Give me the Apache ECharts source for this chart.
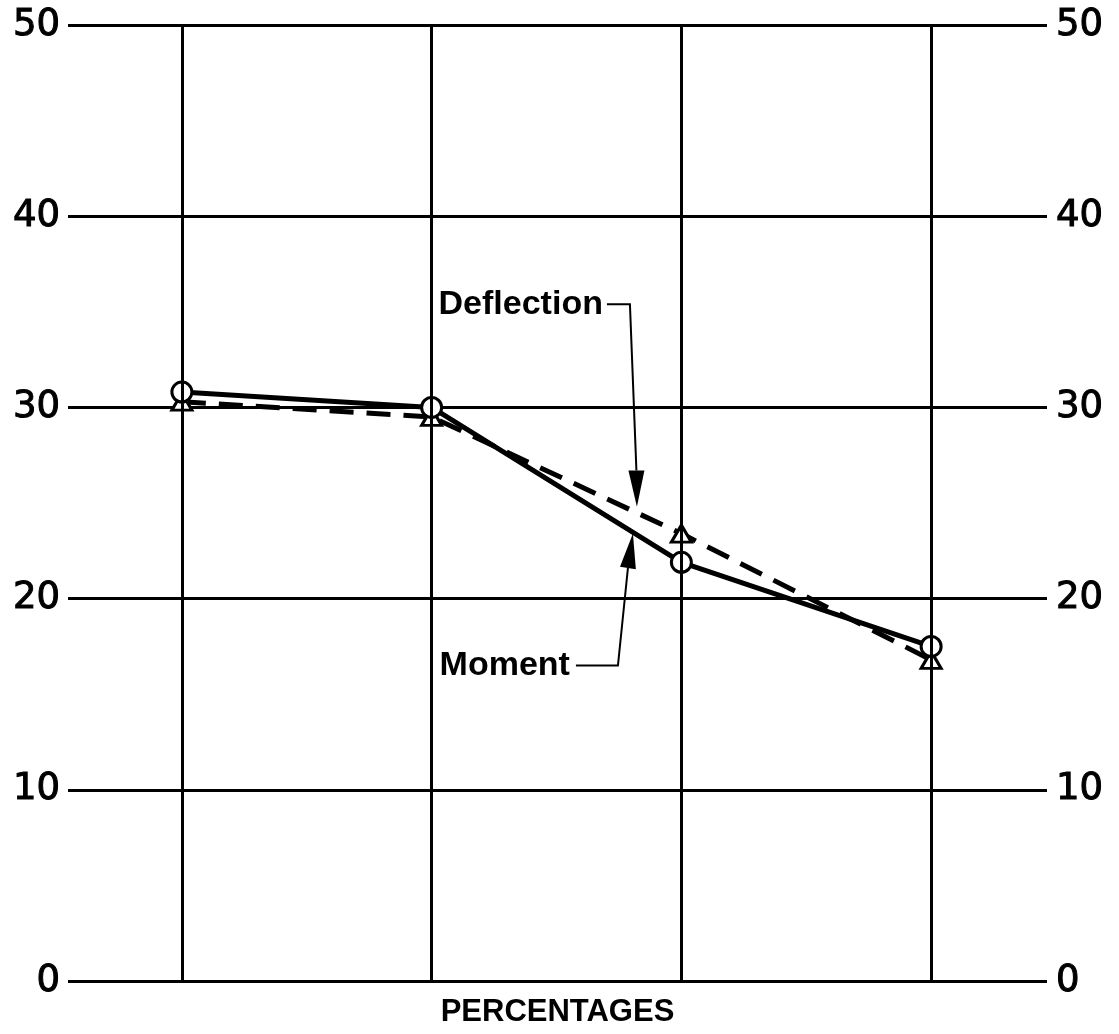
<!DOCTYPE html>
<html>
<head>
<meta charset="utf-8">
<script src="https://cdn.jsdelivr.net/npm/echarts@6/dist/echarts.min.js"></script>
<style>
html, body { margin: 0; padding: 0; background: #fff; }
#chart { width: 1119px; height: 1034px; }
</style>
</head>
<body>
<div id="chart"></div>
<script>
(function(){

	// data
	var xPositions = [1, 2, 3, 4];
	var momentValues = [30.8, 30.0, 21.9, 17.5];
	var deflectionValues = [30.3, 29.5, 23.4, 16.8];
	var yTickLabels = ["0", "10", "20", "30", "40", "50"];

	// annotation anchors, in data units (x, y)
	var deflectionNote = { text: "Deflection", corner: [2.794, 35.4], base: [2.82, 26.7], tip: [2.822, 24.8] };
	var momentNote = { text: "Moment", corner: [2.746, 16.5], base: [2.786, 21.6], tip: [2.806, 23.4] };

	var pairs = function( vals ){
		var out = [];
		for( var i = 0; i < xPositions.length; ++i ) out.push( [ xPositions[ i ], vals[ i ] ] );
		return out;
	};

	var axisLabelStyle = { fontFamily: "DejaVu Sans", fontSize: 37, color: "#000", textBorderColor: "#000", textBorderWidth: 1 };

	var dom = document.getElementById( "chart" );
	var myChart = echarts.init( dom, null, { renderer: "canvas" } );

	var option = {
		animation: false,
		backgroundColor: "#fff",
		grid: { left: 68, right: 72, top: 25, bottom: 53, containLabel: false, outerBoundsMode: "none" },
		xAxis: {
			type: "value",
			min: 0.544,
			max: 4.464,
			axisLine: { show: false },
			axisTick: { show: false },
			axisLabel: { show: false },
			splitLine: { show: false },
			name: "PERCENTAGES",
			nameLocation: "middle",
			nameGap: 16,
			nameTextStyle: { fontFamily: "Liberation Sans", fontWeight: "bold", fontSize: 31, color: "#000" }
		},
		yAxis: [
			{
				type: "value", min: 0, max: 50, interval: 10, position: "left",
				axisLine: { show: false }, axisTick: { show: false },
				axisLabel: Object.assign( { margin: 8, formatter: function( v ){ return yTickLabels[ v / 10 ]; } }, axisLabelStyle ),
				splitLine: { show: true, lineStyle: { color: "#000", width: 3 } }
			},
			{
				type: "value", min: 0, max: 50, interval: 10, position: "right",
				axisLine: { show: false }, axisTick: { show: false },
				axisLabel: Object.assign( { margin: 9, formatter: function( v ){ return yTickLabels[ v / 10 ]; } }, axisLabelStyle ),
				splitLine: { show: false }
			}
		],
		series: [
			{
				name: "grid",
				type: "line",
				data: [],
				markLine: {
					silent: true,
					symbol: "none",
					label: { show: false },
					lineStyle: { color: "#000", width: 3, type: "solid" },
					data: xPositions.map( function( x ){ return { xAxis: x }; } )
				}
			},
			{
				name: "Deflection",
				type: "line",
				data: pairs( deflectionValues ),
				symbol: "triangle",
				symbolSize: [20, 17],
				showAllSymbol: true,
				lineStyle: { color: "#000", width: 5, type: [24, 13] },
				itemStyle: { color: "#fff", borderColor: "#000", borderWidth: 3 },
				z: 3
			},
			{
				name: "Moment",
				type: "line",
				data: pairs( momentValues ),
				symbol: "circle",
				symbolSize: 20,
				showAllSymbol: true,
				lineStyle: { color: "#000", width: 5 },
				itemStyle: { color: "#fff", borderColor: "#000", borderWidth: 3 },
				z: 4
			}
		]
	};

	myChart.setOption( option, true );

	// annotations placed through the chart's own scales
	var px = function( p ){ return myChart.convertToPixel( { gridIndex: 0 }, p ); };
	var graphics = [];

	var noteFont = { fontFamily: "Liberation Sans", fontWeight: "bold", fontSize: 34, fill: "#000" };

	var addNote = function( note, gapToText, gapToLeader ){
		var corner = px( note.corner ), base = px( note.base ), tip = px( note.tip );
		var dx = tip[0] - base[0], dy = tip[1] - base[1];
		var len = Math.sqrt( dx * dx + dy * dy );
		var nx = -dy / len * 8, ny = dx / len * 8;
		var probe = new echarts.graphic.Text( { style: Object.assign( { text: note.text }, noteFont ) } );
		var w = probe.getBoundingRect().width;

		graphics.push( { type: "text", x: corner[0] - gapToText - w, y: corner[1], style: Object.assign( { text: note.text, verticalAlign: "middle" }, noteFont ), z: 10 } );
		graphics.push( {
			type: "polyline",
			shape: { points: [ [ corner[0] - gapToLeader, corner[1] ], corner, base ] },
			style: { stroke: "#000", lineWidth: 2, fill: null },
			z: 10
		} );
		graphics.push( {
			type: "polygon",
			shape: { points: [ tip, [ base[0] + nx, base[1] + ny ], [ base[0] - nx, base[1] - ny ] ] },
			style: { fill: "#000" },
			z: 10
		} );
	};

	addNote( deflectionNote, 27, 23 );
	addNote( momentNote, 48, 42 );

	myChart.setOption( { graphic: graphics } );

	window.addEventListener( "resize", function(){ myChart.resize(); } );
})();
</script>
</body>
</html>
